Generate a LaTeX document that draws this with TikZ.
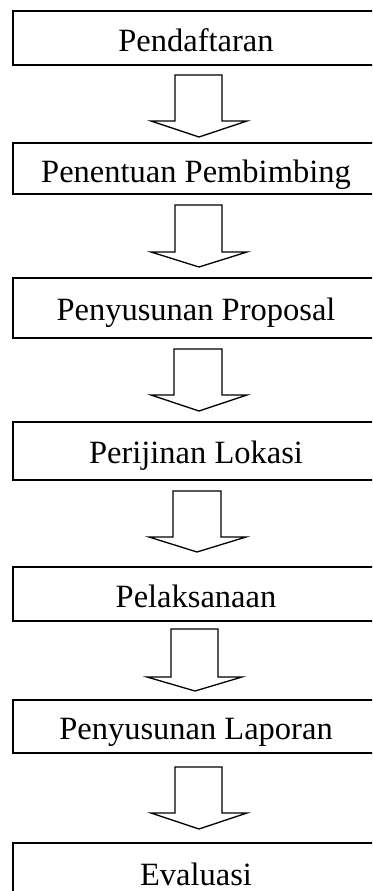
\documentclass[tikz,border=0pt]{standalone}
\usepackage{fontspec}
\setmainfont{Liberation Serif}
\begin{document}
\begin{tikzpicture}[x=1pt,y=-1pt,
  box/.style={draw=black,line width=1.3pt,fill=white},
  lbl/.style={anchor=base,inner sep=0pt,font=\fontsize{32.5}{36}\selectfont},
  blk/.style={draw=black,line width=1.3pt,line join=miter,fill=white}]
\useasboundingbox (0,0) rectangle (372,891);
\clip (0,0) rectangle (372,891);
% boxes
\draw[box] (13,11) rectangle (380,65);
\node[lbl] (t1) at (196,51.7) {Pendaftaran};
\draw[box] (13,143) rectangle (380,194);
\begin{scope}
\clip (13,143) rectangle (380,189);
\node[lbl] (t2) at (196,182.7) {Penentuan Pembimbing};
\end{scope}
\draw[box] (13,278) rectangle (380,338);
\node[lbl] (t3) at (196,320) {Penyusunan Proposal};
\draw[box] (13,422) rectangle (380,480);
\node[lbl] (t4) at (196,463) {Perijinan Lokasi};
\draw[box] (13,567) rectangle (380,621);
\node[lbl] (t5) at (196,607) {Pelaksanaan};
\draw[box] (13,700) rectangle (380,753);
\node[lbl] (t6) at (196,739) {Penyusunan Laporan};
\draw[box] (13,843) rectangle (380,900);
\node[lbl] (t7) at (196,885) {Evaluasi};
% block arrows
\draw[blk] (175,75) -- (222,75) -- (222,121) -- (247,121) -- (199,137) -- (151,121) -- (175,121) -- cycle;
\draw[blk] (175,205) -- (222,205) -- (222,252) -- (247,252) -- (199,267) -- (151,252) -- (175,252) -- cycle;
\draw[blk] (174,349) -- (222,349) -- (222,395) -- (247,395) -- (199,411) -- (151,395) -- (174,395) -- cycle;
\draw[blk] (173,491) -- (221,491) -- (221,537) -- (246,537) -- (197,552) -- (149,537) -- (173,537) -- cycle;
\draw[blk] (171,629) -- (218,629) -- (218,677) -- (242,677) -- (195,691) -- (147,677) -- (171,677) -- cycle;
\draw[blk] (175,767) -- (222,767) -- (222,813) -- (247,813) -- (199,829) -- (151,813) -- (175,813) -- cycle;
\end{tikzpicture}
\end{document}
